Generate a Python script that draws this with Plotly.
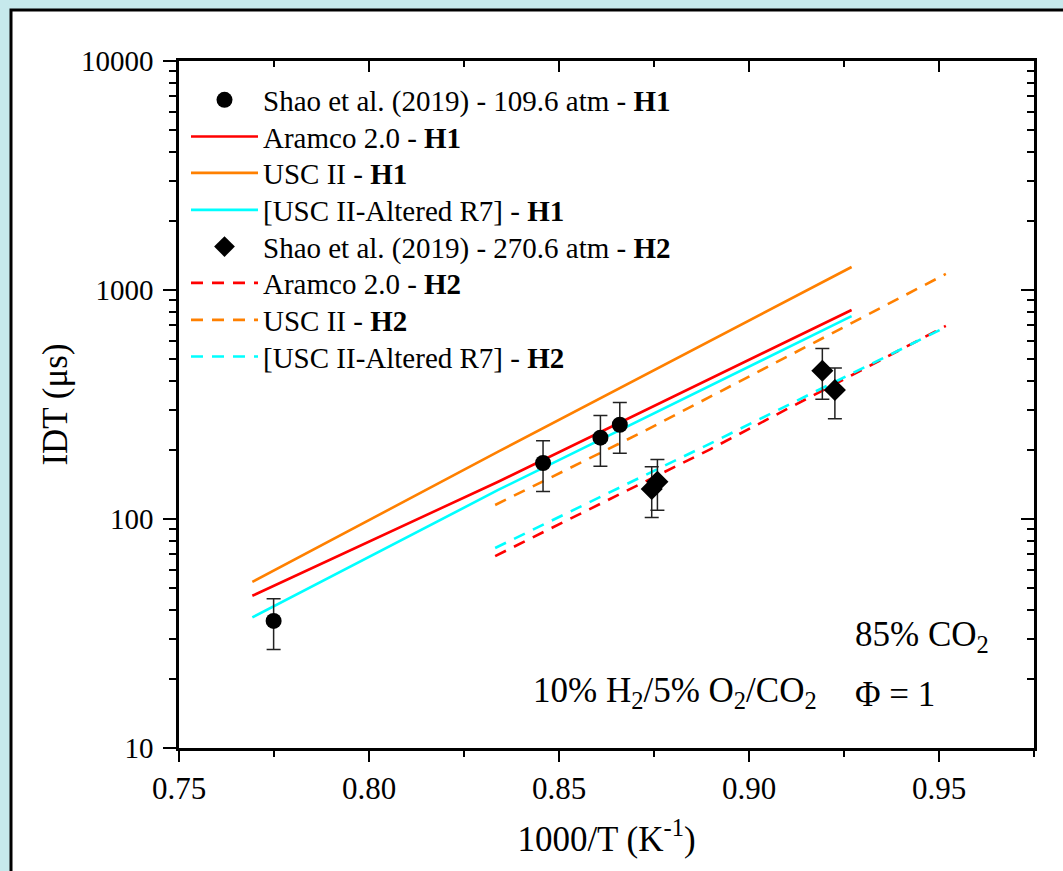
import plotly.graph_objects as go

# ---- data ----
x_h1_exp = [0.7749, 0.8458, 0.8609, 0.8660]
y_h1_exp = [35.9, 175.6, 226.5, 258.0]
x_h2_exp = [0.8744, 0.8759, 0.9193, 0.9226]
y_h2_exp = [135.2, 145.5, 444.0, 365.6]
err_pct = 25

x_h1_model = [0.7693, 0.834, 0.927]
y_h1_aramco = [46.2, 145.5, 818.0]
y_h1_usc = [53.1, 196.8, 1260.0]
y_h1_alt = [37.2, 133.9, 769.0]

x_h2_model_usc = [0.8332, 0.8716, 0.9518]
y_h2_usc = [115.1, 238.0, 1175.0]
x_h2_model = [0.8332, 0.8899, 0.9518]
y_h2_aramco = [68.9, 202.0, 697.0]
y_h2_alt = [74.7, 214.0, 689.0]

x_ticks = [0.75, 0.80, 0.85, 0.90, 0.95]
y_ticks = [10, 100, 1000, 10000]
y_ticktext = ["10", "100", "1000", "10000"]

RED = "#ff0000"
ORANGE = "#ff8000"
CYAN = "#00ffff"
FONT = "Liberation Serif"
DASH = "12px,9px"

L, R, T, B = 179, 29, 61, 123
W, H = 1063, 871
pw, ph = W - L - R, H - T - B

def px(xp):
    return (xp - L) / pw

def py(yp):
    return (H - B - yp) / ph

# legend rows (one legend per entry so that row spacing matches)
row_y = [100, 136.7, 173, 210, 246.7, 283, 320, 356.7]
leg_names = ["legend"] + ["legend%d" % i for i in range(2, 9)]

fig = go.Figure()

def line(x, y, name, color, dash, row):
    fig.add_trace(go.Scatter(
        x=x, y=y, mode="lines", name=name, legend=leg_names[row],
        line=dict(color=color, width=2.6, dash=dash)))

line(x_h1_model, y_h1_usc, "USC II - <b>H1</b>", ORANGE, "solid", 2)
line(x_h1_model, y_h1_aramco, "Aramco 2.0 - <b>H1</b>", RED, "solid", 1)
line(x_h1_model, y_h1_alt, "[USC II-Altered R7] - <b>H1</b>", CYAN, "solid", 3)
line(x_h2_model_usc, y_h2_usc, "USC II - <b>H2</b>", ORANGE, DASH, 6)
line(x_h2_model, y_h2_aramco, "Aramco 2.0 - <b>H2</b>", RED, DASH, 5)
line(x_h2_model, y_h2_alt, "[USC II-Altered R7] - <b>H2</b>", CYAN, DASH, 7)

fig.add_trace(go.Scatter(
    x=x_h1_exp, y=y_h1_exp, mode="markers", legend=leg_names[0],
    name="Shao et al. (2019) - 109.6 atm - <b>H1</b>",
    marker=dict(symbol="circle", size=16, color="black"),
    error_y=dict(type="percent", value=err_pct, color="#222222", thickness=1.5, width=7)))
fig.add_trace(go.Scatter(
    x=x_h2_exp, y=y_h2_exp, mode="markers", legend=leg_names[4],
    name="Shao et al. (2019) - 270.6 atm - <b>H2</b>",
    marker=dict(symbol="diamond", size=17, color="black"),
    error_y=dict(type="percent", value=err_pct, color="#222222", thickness=1.5, width=7)))

# empty trace to create the mirrored top/right axes
fig.add_trace(go.Scatter(x=[], y=[], xaxis="x2", yaxis="y2", showlegend=False, hoverinfo="skip"))

fig.add_shape(type="rect", xref="paper", yref="paper",
              x0=px(11), x1=px(1075), y0=py(885), y1=py(10),
              fillcolor="white", line=dict(color="black", width=3), layer="below")

axis_common = dict(showline=True, linecolor="black", linewidth=2.5, showgrid=False,
                   zeroline=False, tickcolor="black", tickwidth=2)

legends = {}
for name, yy in zip(leg_names, row_y):
    legends[name] = dict(x=px(186), y=py(yy), xanchor="left", yanchor="middle",
                         bgcolor="rgba(0,0,0,0)", borderwidth=0,
                         font=dict(family=FONT, size=29), itemwidth=67)

fig.update_layout(
    width=W, height=H,
    margin=dict(l=L, r=R, t=T, b=B, autoexpand=False),
    paper_bgcolor="#c6e9ec", plot_bgcolor="white",
    font=dict(family=FONT, size=28, color="black"),
    xaxis=dict(range=[0.75, 0.975], tickvals=x_ticks, tickformat=".2f",
               ticks="outside", ticklen=11, automargin=True,
               minor=dict(ticks="outside", ticklen=6, dtick=0.025, tickcolor="black", tickwidth=2),
               title=dict(text="1000/T (K<sup>-1</sup>)", font=dict(size=35), standoff=22),
               tickfont=dict(size=31), **axis_common),
    yaxis=dict(type="log", range=[1, 4], tickvals=y_ticks, ticktext=y_ticktext,
               ticks="outside", ticklen=13, ticklabelstandoff=4, automargin=True,
               minor=dict(ticks="outside", ticklen=7, dtick="D1", tickcolor="black", tickwidth=2),
               title=dict(text="IDT (μs)", font=dict(size=35), standoff=3),
               tickfont=dict(size=29), **axis_common),
    xaxis2=dict(overlaying="x", side="top", anchor="y2", range=[0.75, 0.975], tickvals=x_ticks,
                ticks="inside", ticklen=11, showticklabels=False,
                minor=dict(ticks="inside", ticklen=6, dtick=0.025, tickcolor="black", tickwidth=2),
                **axis_common),
    yaxis2=dict(overlaying="y", side="right", anchor="x2", type="log", range=[1, 4], tickvals=y_ticks,
                ticks="inside", ticklen=13, showticklabels=False,
                minor=dict(ticks="inside", ticklen=7, dtick="D1", tickcolor="black", tickwidth=2),
                **axis_common),
    showlegend=True,
    **legends,
)

ann_font = dict(family=FONT, size=35, color="black")
fig.add_annotation(xref="paper", yref="paper", x=px(853), y=py(660), xanchor="left", yanchor="bottom",
                   text="85% CO<sub>2</sub>", showarrow=False, font=ann_font)
fig.add_annotation(xref="paper", yref="paper", x=px(531), y=py(716), xanchor="left", yanchor="bottom",
                   text="10% H<sub>2</sub>/5% O<sub>2</sub>/CO<sub>2</sub>", showarrow=False, font=ann_font)
fig.add_annotation(xref="paper", yref="paper", x=px(853), y=py(716), xanchor="left", yanchor="bottom",
                   text="Φ = 1", showarrow=False, font=ann_font)

fig.write_html("out.html")
